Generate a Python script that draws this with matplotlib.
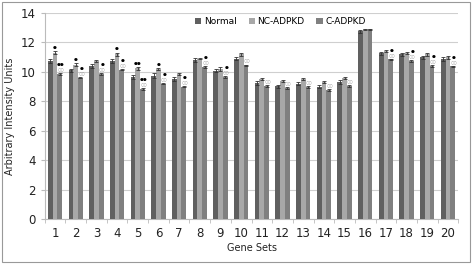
import matplotlib
matplotlib.use('Agg')
import matplotlib.pyplot as plt
import numpy as np
from matplotlib.patches import Rectangle

gene_sets = [str(i) for i in range(1, 21)]
normal = [10.73, 10.1, 10.4, 10.75, 9.66, 9.75, 9.52, 10.8, 10.07, 10.9,
          9.25, 9.03, 9.18, 8.98, 9.32, 12.77, 11.25, 11.18, 10.98, 10.86]
nc_adpkd = [11.3, 10.5, 10.75, 11.2, 10.23, 10.18, 9.84, 10.9, 10.2, 11.18,
            9.5, 9.37, 9.5, 9.3, 9.6, 12.88, 11.43, 11.3, 11.2, 10.98]
c_adpkd = [9.86, 9.6, 9.84, 10.15, 8.82, 9.2, 9.0, 10.34, 9.66, 10.45,
           9.05, 8.9, 8.96, 8.76, 9.03, 12.88, 10.84, 10.73, 10.4, 10.37]
err_normal = [0.15, 0.12, 0.15, 0.12, 0.12, 0.15, 0.15, 0.12, 0.1, 0.12,
              0.12, 0.1, 0.1, 0.1, 0.12, 0.1, 0.12, 0.12, 0.12, 0.12]
err_nc = [0.1, 0.1, 0.05, 0.1, 0.08, 0.08, 0.08, 0.05, 0.12, 0.08,
          0.08, 0.05, 0.08, 0.05, 0.08, 0.05, 0.08, 0.08, 0.1, 0.12]
err_c = [0.05] * 20
# significance markers (filled = vs normal, open = vs NC)
nc_marks = ['●', '●', '', '●', '●●', '●', '', '', '', '',
            '', '', '', '', '', '', '', '', '', '']
c_marks = ['●●', '●', '●', '●', '●●', '●', '●', '●', '●', '',
           '', '', '', '', '', '', '●', '●', '●', '●']
c_open = [True] * 15 + [False] + [True] * 4

W, H = 472, 264
fig = plt.figure(figsize=(W / 100, H / 100), dpi=100)
ax = fig.add_axes([44.7 / W, 1 - 219 / H, (458.3 - 44.7) / W, (219 - 13) / H])

x = np.arange(1, 21)
bw = 0.23
ekw = dict(ecolor='#333333', elinewidth=0.6, capsize=1.2, capthick=0.6)
ax.bar(x - bw, normal, bw, color='#606060', yerr=err_normal, error_kw=ekw, label='Normal', zorder=3)
ax.bar(x, nc_adpkd, bw, color='#a8a8a8', yerr=err_nc, error_kw=ekw, label='NC-ADPKD', zorder=3)
ax.bar(x + bw, c_adpkd, bw, color='#808080', yerr=err_c, error_kw=ekw, label='C-ADPKD', zorder=3)

for i in range(20):
    if nc_marks[i]:
        ax.annotate(nc_marks[i], (x[i], nc_adpkd[i] + err_nc[i]), xytext=(0, 1),
                    textcoords='offset points', ha='center', va='bottom',
                    fontsize=3.2, color='black', zorder=4)
    off = 1
    if c_open[i]:
        ax.annotate('○○', (x[i] + bw + 0.06, c_adpkd[i]), xytext=(0, off),
                    textcoords='offset points', ha='center', va='bottom',
                    fontsize=2.8, color='#999999', zorder=4)
        off += 4
    if c_marks[i]:
        ax.annotate(c_marks[i], (x[i] + bw + 0.06, c_adpkd[i]), xytext=(0, off),
                    textcoords='offset points', ha='center', va='bottom',
                    fontsize=3.2, color='black', zorder=4)

ax.set_xlim(0.5, 20.5)
ax.set_ylim(0, 14)
ax.set_yticks(range(0, 15, 2))
ax.set_xticks(x)
ax.set_xticklabels(gene_sets)
ax.set_xticks(np.arange(0.5, 21, 1), minor=True)
ax.tick_params(axis='x', which='major', length=0, labelsize=8.5, pad=6, colors='#222222')
ax.tick_params(axis='x', which='minor', length=3, color='#bbbbbb')
ax.tick_params(axis='y', length=3, color='#bbbbbb', labelsize=8.5, colors='#222222')
ax.grid(axis='y', color='#cfcfcf', linewidth=0.8, zorder=0)
for s in ['top', 'right']:
    ax.spines[s].set_visible(False)
ax.spines['left'].set_color('#bbbbbb')
ax.spines['bottom'].set_color('#bbbbbb')
ax.set_ylabel('Arbitrary Intensity Units', fontsize=7, color='#222222', labelpad=4)
ax.set_xlabel('Gene Sets', fontsize=7, color='#222222', labelpad=2)

ax.legend(loc='upper center', bbox_to_anchor=(0.57, 1.02), ncol=3, frameon=False,
          fontsize=6.5, handlelength=0.7, handleheight=0.7, columnspacing=1.3,
          handletextpad=0.3)

fig.patches.append(Rectangle((2 / W, 2 / H), 1 - 4 / W, 1 - 4 / H, transform=fig.transFigure,
                             fill=False, edgecolor='#999999', linewidth=0.8))

fig.savefig('out.png', dpi=100)
